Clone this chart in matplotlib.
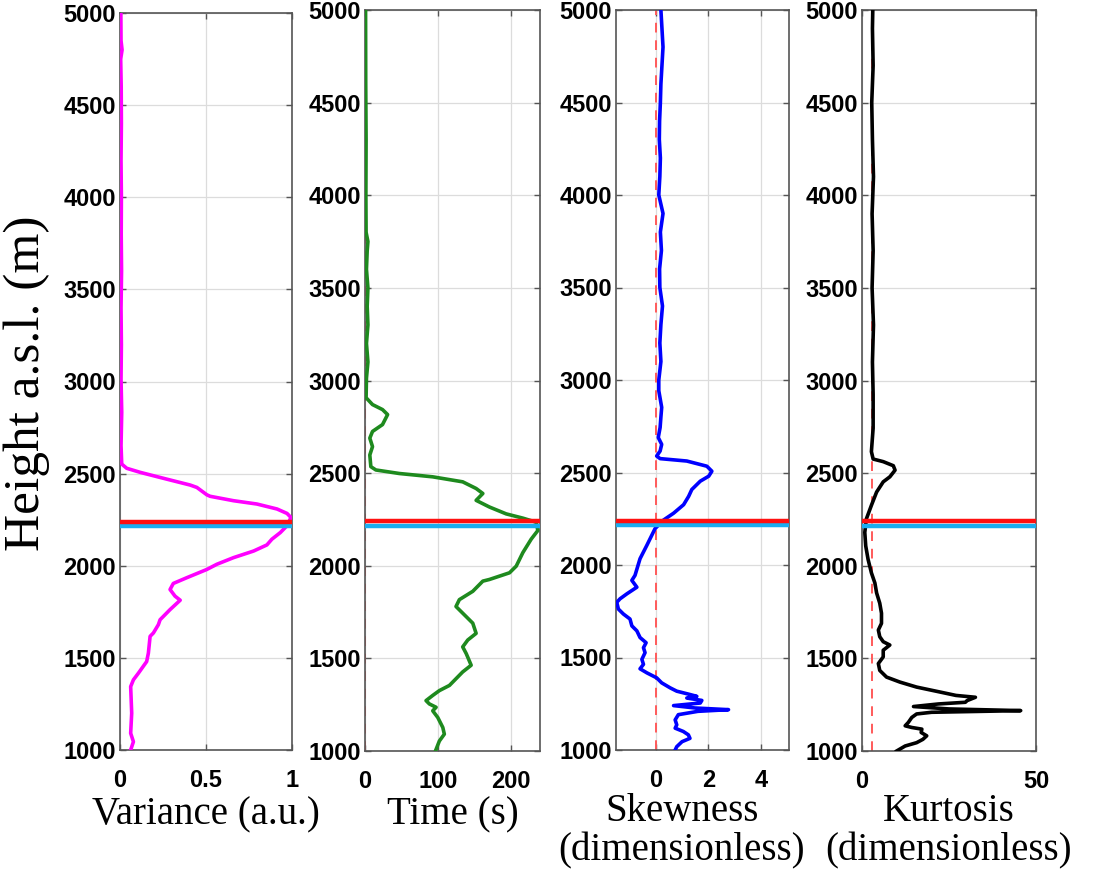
import numpy as np
import matplotlib.pyplot as plt

# Height profiles (m a.s.l.) and the statistic read along each one
var_h = [1000, 1045, 1091, 1200, 1344, 1381, 1417, 1480, 1526, 1617, 1635, 1680, 1707,
         1762, 1813, 1835, 1871, 1904, 1935, 1980, 2008, 2044, 2080, 2113, 2144, 2180,
         2217, 2262, 2284, 2308, 2335, 2353, 2377, 2385, 2425, 2438, 2470, 2507, 2529,
         2552, 2652, 2833, 3013, 3200, 3400, 3600, 3800, 4000, 4200, 4400, 4600, 4750,
         4800, 4850, 5000]
var_x = [0.062, 0.078, 0.062, 0.068, 0.062, 0.078, 0.107, 0.155, 0.165, 0.175, 0.194,
         0.223, 0.233, 0.291, 0.35, 0.32, 0.291, 0.31, 0.388, 0.505, 0.563, 0.66, 0.777,
         0.854, 0.883, 0.932, 0.971, 0.994, 0.971, 0.913, 0.796, 0.66, 0.524, 0.505,
         0.447, 0.408, 0.272, 0.117, 0.039, 0.01, 0.006, 0.01, 0.006, 0.008, 0.006,
         0.009, 0.007, 0.008, 0.006, 0.008, 0.007, 0.004, 0.012, 0.006, 0.005]

time_h = [1000, 1054, 1091, 1127, 1181, 1217, 1236, 1254, 1272, 1300, 1326, 1354, 1427,
          1463, 1526, 1562, 1599, 1635, 1690, 1744, 1780, 1817, 1862, 1917, 1926, 1962,
          1998, 2071, 2144, 2190, 2235, 2257, 2280, 2317, 2353, 2390, 2417, 2453, 2480,
          2498, 2517, 2535, 2598, 2643, 2689, 2725, 2762, 2816, 2843, 2870, 2907, 3013,
          3100, 3200, 3300, 3400, 3500, 3600, 3700, 3750, 3800, 4000, 4300, 4600, 5000]
time_x = [96.6, 102, 108.8, 106.7, 99.8, 92.9, 97.5, 88.3, 83.7, 92.9, 102, 115.8, 134,
          145.6, 138.8, 134, 140.9, 152.4, 147.8, 134, 124.8, 129.4, 147.8, 161.6, 170.7,
          198.2, 207.4, 216.5, 228, 237, 234.8, 216.5, 193.6, 170.7, 152.4, 161.6, 152.4,
          134, 92.9, 47, 14.9, 8, 6.6, 10.3, 6.6, 10.3, 24, 31, 24, 10.3, 1.5, 2.0,
          4.0, 2.0, 4.0, 3.0, 4.0, 2.0, 3.0, 4.0, 1.5, 1.2, 1.5, 1.0, 0.8]

skew_h = [1000, 1018, 1045, 1063, 1082, 1100, 1118, 1136, 1163, 1191, 1209, 1218, 1227,
          1240, 1254, 1268, 1281, 1290, 1300, 1318, 1336, 1363, 1390, 1417, 1439, 1463,
          1490, 1526, 1553, 1580, 1608, 1644, 1671, 1708, 1735, 1762, 1798, 1817, 1844,
          1862, 1880, 1917, 1944, 2034, 2107, 2197, 2243, 2280, 2326, 2371, 2408, 2453,
          2480, 2507, 2534, 2562, 2575, 2589, 2616, 2652, 2689, 2743, 2800, 2852, 2942,
          3000, 3100, 3200, 3300, 3400, 3500, 3600, 3700, 3800, 3900, 4000, 4100, 4200,
          4300, 4400, 4500, 4600, 4700, 4800, 4900, 5000]
skew_x = [0.74, 0.80, 1.0, 1.30, 1.24, 1.05, 0.74, 0.80, 0.74, 0.86, 1.6, 2.76, 1.5,
          0.68, 1.69, 1.75, 1.18, 1.56, 1.3, 0.80, 0.55, 0.23, 0.04, -0.33, -0.59, -0.46,
          -0.52, -0.40, -0.46, -0.36, -0.59, -0.71, -0.90, -0.97, -1.22, -1.41, -1.47,
          -1.35, -1.09, -0.90, -0.71, -0.90, -0.78, -0.59, -0.33, -0.02, 0.30, 0.68, 1.06,
          1.25, 1.37, 1.69, 2.01, 2.13, 1.94, 1.18, 0.17, 0.04, 0.17, 0.23, 0.10, 0.17,
          0.20, 0.23, 0.12, 0.12, 0.20, 0.16, 0.20, 0.26, 0.16, 0.15, 0.22, 0.18, 0.28,
          0.12, 0.16, 0.18, 0.14, 0.15, 0.18, 0.20, 0.24, 0.28, 0.24, 0.20]

kurt_h = [1000, 1027, 1045, 1063, 1082, 1100, 1118, 1127, 1136, 1154, 1181, 1200, 1209,
          1218, 1227, 1240, 1254, 1263, 1272, 1290, 1300, 1318, 1345, 1372, 1399, 1435,
          1472, 1508, 1544, 1572, 1590, 1617, 1653, 1689, 1744, 1798, 1853, 1907, 1962,
          2034, 2107, 2180, 2253, 2326, 2398, 2453, 2480, 2516, 2540, 2562, 2576, 2616,
          2743, 2924, 3100, 3300, 3500, 3700, 3900, 4100, 4300, 4500, 4700, 4900, 5000]
kurt_x = [9.95, 12.4, 15.7, 17.5, 18.6, 17.0, 17.2, 14.3, 12.4, 13.3, 14.3, 15.7, 20,
          45.6, 25, 14.8, 22, 29.7, 30.2, 32.6, 27, 22.5, 15.7, 10.9, 7.05, 5.1, 4.7,
          6.1, 6.1, 8.0, 6.1, 5.1, 4.7, 5.6, 5.6, 5.1, 4.2, 3.7, 2.7, 1.75, 1.07, 0.8,
          1.26, 2.7, 4.2, 6.1, 8.0, 9.5, 9.0, 6.1, 3.2, 2.7, 3.2, 3.2, 3.0, 3.3, 2.9,
          3.2, 2.9, 3.3, 3.0, 2.8, 3.2, 3.0, 3.1]

layer_top = 2240     # red marker
layer_base = 2216    # cyan marker

xlabels = ['Variance (a.u.)', 'Time (s)', 'Skewness\n(dimensionless)',
           'Kurtosis\n(dimensionless)']
xlims = [(0, 1), (0, 240), (-1.5, 5.05), (0, 50)]
xticks = [[0, 0.5, 1], [0, 100, 200], [0, 2, 4], [0, 50]]
xticklabels = [['0', '0.5', '1'], ['0', '100', '200'], ['0', '2', '4'], ['0', '50']]
ref_lines = [None, 0, 0, 3]

profiles = [(var_x, var_h, '#ff00ff'), (time_x, time_h, '#1e8a1e'),
            (skew_x, skew_h, '#0000ff'), (kurt_x, kurt_h, '#000000')]

# axes boxes in pixels: left, top, right, bottom
W, H = 1093, 874
boxes = [(120, 13, 292, 750), (365, 10, 540, 751), (616, 10, 789, 750), (862, 10, 1036, 751)]
label_x = [0.5, 0.5, 0.38, 0.5]

fig = plt.figure(figsize=(W / 100, H / 100), dpi=100)
for i, (l, t, r, b) in enumerate(boxes):
    ax = fig.add_axes([l / W, (H - b) / H, (r - l) / W, (b - t) / H])
    x, h, c = profiles[i]
    ax.set_xlim(*xlims[i])
    ax.set_ylim(1000, 5000)
    ax.set_xticks(xticks[i])
    ax.set_xticklabels(xticklabels[i])
    ax.set_yticks(np.arange(1000, 5001, 500))
    ax.grid(True, color='#dcdcdc', lw=0.9)
    ax.set_axisbelow(True)
    if ref_lines[i] is not None:
        ax.axvline(ref_lines[i], color='#ff5a5a', lw=1.4, ls=(0, (5, 4)), zorder=2)
    ax.plot(x, h, color=c, lw=2.6, zorder=3)
    ax.axhline(layer_base, color='#1aaef0', lw=3.2, zorder=4)
    ax.axhline(layer_top, color='#ff1010', lw=3.2, zorder=5)
    ax.tick_params(direction='in', top=True, right=True, length=4, width=1,
                   color='#555555')
    ax.tick_params(axis='y', pad=3)
    ax.tick_params(axis='x', pad=14)
    for lab in ax.get_xticklabels() + ax.get_yticklabels():
        lab.set_fontfamily('Liberation Sans')
        lab.set_fontweight('bold')
        lab.set_fontsize(17)
    for sp in ax.spines.values():
        sp.set_color('#555555')
        sp.set_linewidth(1.2)
    ax.set_xlabel(xlabels[i], family='Liberation Serif', fontsize=28,
                  va='center', linespacing=1.1)
    ybox = b - t
    if '\n' in xlabels[i]:
        ax.xaxis.set_label_coords(label_x[i], (b - 831) / ybox)
    else:
        ax.xaxis.set_label_coords(label_x[i], (b - 815) / ybox)

fig.text(27 / W, (H - 383) / H, 'Height a.s.l. (m)', rotation=90, ha='center',
         va='center', family='Liberation Serif', fontsize=37)

fig.savefig('out.png', dpi=100)
